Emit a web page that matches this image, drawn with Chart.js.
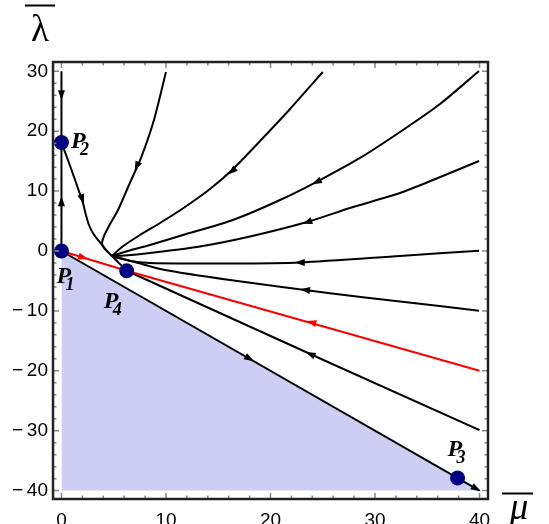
<!DOCTYPE html>
<html>
<head>
<meta charset="utf-8">
<script src="https://cdn.jsdelivr.net/npm/chart.js@4.4.0/dist/chart.umd.min.js"></script>
<style>
  html, body { margin: 0; padding: 0; background: #fff; }
  #wrap { width: 549px; height: 524px; position: relative; }
</style>
</head>
<body>
<div id="wrap"><canvas id="myChart"></canvas></div>
<script>
// tick labels
const xTicks = [0, 10, 20, 30, 40];
const yTicks = [-40, -30, -20, -10, 0, 10, 20, 30];

// fixed points P1..P4
const pointNames = ['1', '2', '3', '4'];
const fixedPts = [[0, 0], [0, 18.1], [37.9, -37.9], [6.24, -3.3]];

// trajectories, each listed in the direction of the flow
const axisDown = [[0, 30], [0, 18.1]];
const axisUp = [[0, 0], [0, 18.1]];
const fromP2 = [[0, 18.08], [0.62, 15.19], [1.2, 12.35], [1.67, 10.02], [2.06, 8.01], [2.34, 6.01], [2.63, 4.34],
  [3.01, 3.01], [3.49, 1.84], [3.97, 0.83], [4.45, -0.17], [5.22, -1.5], [5.69, -2.34], [6.24, -3.29]];
const fromTop10 = [[10, 29.88], [8.85, 21.87], [7.61, 15.53], [6.46, 11.02], [5.41, 6.84], [4.55, 4.17],
  [4.07, 2.5], [3.88, 1.34], [4.07, 0.5], [4.45, -0.17]];
const fromTop25 = [[25, 29.88], [21.87, 23.71], [19, 18.36], [16.32, 13.52], [14.21, 10.35], [11.82, 7.35],
  [9.43, 4.67], [7.51, 2.67], [5.79, 0.67], [4.83, -0.83]];
const fromTop40 = [[39.95, 30.05], [36.22, 24.54], [32.39, 19.87], [28.56, 15.53], [24.74, 11.85], [20.91, 8.51],
  [16.41, 5.18], [11.63, 2.67], [8.47, 1.0], [6.36, 0], [4.83, -0.83]];
const from15 = [[39.95, 15.03], [35.55, 11.85], [32.39, 9.68], [27.61, 7.18], [23.49, 4.84], [18.04, 2.42],
  [13.25, 0.75], [8.47, -0.33], [6.08, -0.75], [4.83, -0.83]];
const from0 = [[39.95, 0.05], [32.39, -0.83], [22.82, -1.92], [16.12, -2.09], [8.47, -2.0], [6.56, -1.67], [4.83, -0.83]];
const fromMinus10 = [[39.95, -9.97], [32.39, -8.43], [25.69, -7.06], [16.12, -4.84], [9.9, -3.17], [7.03, -1.84], [4.83, -0.83]];
const fromMinus30 = [[40, -29.9], [25.7, -18.7], [6.24, -3.3]];
const redIn = [[40, -20], [6.24, -3.3]];
const redOut = [[0, 0], [6.24, -3.3]];
const diag = [[0, 0], [40, -40]];
// shaded region: below the diagonal down to -40
const shadeEdge = [[0, 0], [40, -40]];
const shadeFloor = -40;

const black = '#000';
const red = 'rgb(250,0,0)';

// arrowheads: [trajectory, x, y, colour]
const arrowMarks = [
  [axisDown, 0, 26, black], [axisUp, 0, 8.3, black], [fromP2, 2.0, 8.6, black],
  [fromTop10, 7.2, 14.1, black], [fromTop25, 16.3, 13.3, black], [fromTop40, 24.4, 11.5, black],
  [from15, 23.5, 4.8, black], [from0, 22.8, -1.92, black], [fromMinus10, 23.3, -6.5, black],
  [fromMinus30, 23.8, -17.2, black], [diag, 18, -18, black], [diag, 39.7, -39.7, black],
  [redOut, 2.1, -1.1, red], [redIn, 23.9, -11.9, red]
];

const toXY = arr => arr.map(p => ({ x: p[0], y: p[1] }));

function curve(arr, color, tension, order) {
  return {
    data: toXY(arr), showLine: true, borderColor: color, borderWidth: 2,
    pointRadius: 0, tension: tension, fill: false, order: order
  };
}

const datasets = [
  {
    data: toXY(fixedPts), showLine: false, pointRadius: 7.5, pointHoverRadius: 7.5,
    backgroundColor: 'rgb(0,0,128)', borderColor: 'rgb(0,0,128)', borderWidth: 0, order: 0
  },
  curve(redIn, red, 0, 1), curve(redOut, red, 0, 1),
  curve(axisDown, black, 0, 2), curve(axisUp, black, 0, 2),
  curve(fromP2, black, 0.25, 2), curve(fromTop10, black, 0.25, 2), curve(fromTop25, black, 0.25, 2),
  curve(fromTop40, black, 0.25, 2), curve(from15, black, 0.25, 2), curve(from0, black, 0.25, 2),
  curve(fromMinus10, black, 0.25, 2), curve(fromMinus30, black, 0, 2), curve(diag, black, 0, 2),
  {
    data: toXY(shadeEdge), showLine: true, borderWidth: 0, borderColor: 'rgba(0,0,0,0)',
    pointRadius: 0, fill: { value: shadeFloor }, backgroundColor: 'rgb(206,206,245)', order: 5
  }
];

const decor = {
  id: 'decor',
  afterDatasetsDraw(chart) {
    const { ctx, scales: { x, y } } = chart;
    const px = p => [x.getPixelForValue(p[0]), y.getPixelForValue(p[1])];
    arrowMarks.forEach(([traj, ax, ay, col]) => {
      const [cx, cy] = px([ax, ay]);
      let best = null, bd = Infinity;
      for (let i = 0; i < traj.length - 1; i++) {
        const a = px(traj[i]), b = px(traj[i + 1]);
        const dx = b[0] - a[0], dy = b[1] - a[1];
        const L2 = dx * dx + dy * dy;
        let t = ((cx - a[0]) * dx + (cy - a[1]) * dy) / L2;
        t = Math.max(0, Math.min(1, t));
        const d = (a[0] + t * dx - cx) ** 2 + (a[1] + t * dy - cy) ** 2;
        if (d < bd) { bd = d; best = [dx, dy]; }
      }
      const len = Math.hypot(best[0], best[1]);
      const ux = best[0] / len, uy = best[1] / len;
      ctx.save();
      ctx.fillStyle = col;
      ctx.beginPath();
      ctx.moveTo(cx + ux * 5, cy + uy * 5);
      ctx.lineTo(cx - ux * 5 - uy * 3.5, cy - uy * 5 + ux * 3.5);
      ctx.lineTo(cx - ux * 5 + uy * 3.5, cy - uy * 5 - ux * 3.5);
      ctx.closePath();
      ctx.fill();
      ctx.restore();
    });
  },
  afterDraw(chart) {
    const { ctx, chartArea: a, scales: { x, y } } = chart;
    ctx.save();
    // tick marks inside the frame, every 2 units
    ctx.strokeStyle = '#888';
    ctx.lineWidth = 1.5;
    ctx.beginPath();
    for (let v = 0; v <= 40; v += 2) {
      const p = x.getPixelForValue(v), l = v % 10 === 0 ? 6 : 3.5;
      ctx.moveTo(p, a.bottom); ctx.lineTo(p, a.bottom - l);
      ctx.moveTo(p, a.top); ctx.lineTo(p, a.top + l);
    }
    for (let v = -40; v <= 30; v += 2) {
      const p = y.getPixelForValue(v), l = v % 10 === 0 ? 6 : 3.5;
      ctx.moveTo(a.left, p); ctx.lineTo(a.left + l, p);
      ctx.moveTo(a.right, p); ctx.lineTo(a.right - l, p);
    }
    ctx.stroke();
    // frame
    ctx.strokeStyle = '#222';
    ctx.lineWidth = 2.5;
    ctx.strokeRect(a.left, a.top, a.right - a.left, a.bottom - a.top);

    // point labels P1..P4
    const labelOffsets = [[-5, 32], [9.5, 5], [-10, -22], [-23, 37]];
    ctx.fillStyle = '#000';
    ctx.textAlign = 'left';
    ctx.textBaseline = 'alphabetic';
    fixedPts.forEach((p, i) => {
      const lx = x.getPixelForValue(p[0]) + labelOffsets[i][0];
      const ly = y.getPixelForValue(p[1]) + labelOffsets[i][1];
      ctx.font = 'bold italic 24px "Liberation Serif"';
      ctx.fillText('P', lx, ly);
      ctx.font = 'bold italic 18px "Liberation Serif"';
      ctx.fillText(pointNames[i], lx + 9, ly + 7);
    });

    // axis titles with overbars
    ctx.textAlign = 'center';
    ctx.font = '37px "Liberation Serif"';
    ctx.fillText('\u03bb', 40, 41);
    ctx.font = 'italic 37px "Liberation Serif"';
    ctx.fillText('\u03bc', 519, 519);
    ctx.strokeStyle = '#000';
    ctx.lineWidth = 2;
    ctx.beginPath();
    ctx.moveTo(25, 5.5); ctx.lineTo(55, 5.5);
    ctx.moveTo(502, 493.5); ctx.lineTo(533, 493.5);
    ctx.stroke();
    ctx.restore();
  }
};

const minus = v => (v < 0 ? '\u2212\u2009' + Math.abs(v) : String(v));

new Chart(document.getElementById('myChart'), {
  type: 'scatter',
  data: { datasets: datasets },
  options: {
    responsive: true,
    maintainAspectRatio: false,
    devicePixelRatio: 1,
    animation: false,
    layout: { padding: { left: 0, right: 61, top: 62, bottom: 0 } },
    plugins: { legend: { display: false }, tooltip: { enabled: false } },
    scales: {
      x: {
        type: 'linear', min: -0.81, max: 40.81,
        grid: { display: false, drawTicks: false },
        border: { display: false },
        afterBuildTicks: s => { s.ticks = xTicks.map(v => ({ value: v })); },
        afterFit: s => { s.height = 25; },
        ticks: { color: '#000', padding: 10, font: { family: 'Liberation Sans', size: 19 }, maxRotation: 0, callback: minus }
      },
      y: {
        type: 'linear', min: -41.4, max: 31.55,
        grid: { display: false, drawTicks: false },
        border: { display: false },
        afterBuildTicks: s => { s.ticks = yTicks.map(v => ({ value: v })); },
        afterFit: s => { s.width = 53; },
        ticks: { color: '#000', padding: 5, font: { family: 'Liberation Sans', size: 19 }, callback: minus }
      }
    }
  },
  plugins: [decor]
});
</script>
</body>
</html>
